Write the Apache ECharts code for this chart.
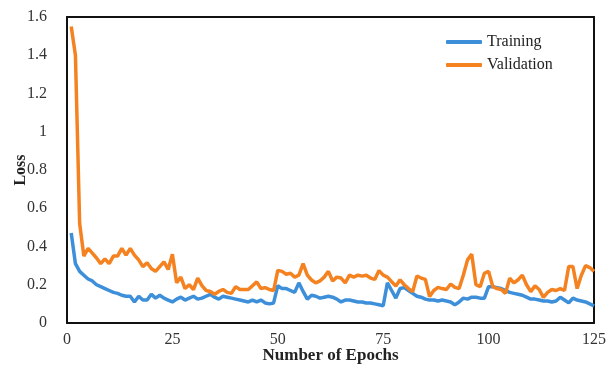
<!DOCTYPE html>
<html>
<head>
<meta charset="utf-8">
<script src="https://cdn.jsdelivr.net/npm/echarts@6/dist/echarts.min.js"></script>
<style>
  html, body { margin: 0; padding: 0; background: #fff; }
  #chart { width: 616px; height: 375px; }
</style>
</head>
<body>
<div id="chart"></div>
<script>
// loss per epoch (epochs 1..125)
var training = [
    0.47, 0.31, 0.27, 0.25, 0.23, 0.22, 0.20, 0.19, 0.18, 0.17,
    0.16, 0.155, 0.145, 0.14, 0.14, 0.11, 0.14, 0.12, 0.12, 0.15,
    0.13, 0.145, 0.13, 0.12, 0.11, 0.125, 0.135, 0.12, 0.13, 0.14,
    0.125, 0.13, 0.14, 0.15, 0.135, 0.125, 0.14, 0.135, 0.13, 0.125,
    0.12, 0.115, 0.11, 0.12, 0.11, 0.12, 0.105, 0.10, 0.105, 0.195,
    0.18, 0.18, 0.17, 0.16, 0.21, 0.165, 0.125, 0.145, 0.14, 0.13,
    0.135, 0.14, 0.135, 0.125, 0.11, 0.12, 0.12, 0.115, 0.11, 0.11,
    0.105, 0.105, 0.10, 0.095, 0.09, 0.21, 0.17, 0.13, 0.18, 0.185,
    0.17, 0.155, 0.14, 0.135, 0.125, 0.12, 0.12, 0.115, 0.12, 0.115,
    0.11, 0.095, 0.11, 0.13, 0.125, 0.135, 0.135, 0.13, 0.13, 0.19,
    0.19, 0.185, 0.18, 0.17, 0.16, 0.155, 0.15, 0.145, 0.135, 0.125,
    0.125, 0.12, 0.115, 0.115, 0.11, 0.115, 0.135, 0.12, 0.105, 0.13,
    0.12, 0.115, 0.11, 0.10, 0.09
];

var validation = [
    1.55, 1.40, 0.52, 0.35, 0.39, 0.365, 0.34, 0.31, 0.335, 0.31,
    0.35, 0.35, 0.39, 0.355, 0.39, 0.355, 0.33, 0.295, 0.315, 0.285,
    0.27, 0.295, 0.32, 0.28, 0.36, 0.21, 0.24, 0.18, 0.20, 0.175,
    0.235, 0.195, 0.17, 0.165, 0.15, 0.165, 0.175, 0.16, 0.155, 0.19,
    0.175, 0.175, 0.175, 0.195, 0.215, 0.18, 0.185, 0.175, 0.17, 0.275,
    0.27, 0.255, 0.26, 0.24, 0.25, 0.31, 0.25, 0.225, 0.21, 0.22,
    0.24, 0.27, 0.22, 0.24, 0.235, 0.21, 0.25, 0.24, 0.25, 0.245,
    0.25, 0.235, 0.228, 0.274, 0.25, 0.24, 0.216, 0.194, 0.226, 0.20,
    0.18, 0.164, 0.246, 0.235, 0.228, 0.138, 0.17, 0.186, 0.18, 0.175,
    0.204, 0.186, 0.18, 0.25, 0.33, 0.36, 0.20, 0.19, 0.26, 0.27,
    0.19, 0.18, 0.175, 0.155, 0.234, 0.21, 0.226, 0.25, 0.20, 0.164,
    0.194, 0.175, 0.134, 0.16, 0.175, 0.17, 0.18, 0.17, 0.295, 0.295,
    0.18, 0.25, 0.30, 0.29, 0.27
];

var seriesNames = ['Training', 'Validation'];
var colors = ['#3d8fd9', '#f58220'];

var font = 'Liberation Serif';
var frame = { show: true, onZero: false, lineStyle: { color: '#111', width: 2 } };

// pair each value with its epoch number
function toPoints(arr) {
    var pts = [];
    for (var i = 0; i < arr.length; i++) {
        pts.push([i + 1, arr[i]]);
    }
    return pts;
}

// plain axis used only to draw the top / right edge of the frame
function edgeAxis(type, pos, min, max) {
    return {
        type: type, position: pos, min: min, max: max,
        axisLine: frame, axisTick: { show: false },
        axisLabel: { show: false }, splitLine: { show: false }
    };
}

var myChart = echarts.init(document.getElementById('chart'));

myChart.setOption({
    animation: false,
    backgroundColor: '#fff',
    color: colors,
    textStyle: { fontFamily: font },
    grid: {
        left: 67, right: 22, top: 17, bottom: 52,
        outerBoundsMode: 'none'
    },
    legend: {
        orient: 'vertical',
        left: 441, top: 29,
        itemWidth: 36, itemHeight: 4, itemGap: 7,
        icon: 'roundRect',
        textStyle: { fontFamily: font, fontSize: 16, color: '#222' },
        data: seriesNames
    },
    xAxis: [{
        type: 'value',
        position: 'bottom',
        min: 0, max: 125, interval: 25,
        name: 'Number of Epochs',
        nameLocation: 'middle',
        nameGap: 24,
        nameMoveOverlap: false,
        nameTextStyle: { fontFamily: font, fontSize: 17, fontWeight: 'bold', color: '#222' },
        axisLine: frame,
        axisTick: { show: false },
        splitLine: { show: false },
        axisLabel: { fontFamily: font, fontSize: 16, color: '#333', margin: 9 }
    }, edgeAxis('value', 'top', 0, 125)],
    yAxis: [{
        type: 'value',
        position: 'left',
        min: 0, max: 1.6, interval: 0.2,
        name: 'Loss',
        nameLocation: 'middle',
        nameRotate: 90,
        nameGap: 38,
        nameMoveOverlap: false,
        nameTextStyle: { fontFamily: font, fontSize: 16, fontWeight: 'bold', color: '#222' },
        axisLine: frame,
        axisTick: { show: false },
        splitLine: { show: false },
        axisLabel: {
            fontFamily: font, fontSize: 16, color: '#333', margin: 20,
            formatter: function (v) { return String(parseFloat(v.toFixed(1))); }
        }
    }, edgeAxis('value', 'right', 0, 1.6)],
    series: [
        {
            name: seriesNames[0],
            type: 'line',
            data: toPoints(training),
            symbol: 'none',
            lineStyle: { width: 3.5 }
        },
        {
            name: seriesNames[1],
            type: 'line',
            data: toPoints(validation),
            symbol: 'none',
            lineStyle: { width: 3.5 }
        }
    ]
});
</script>
</body>
</html>
